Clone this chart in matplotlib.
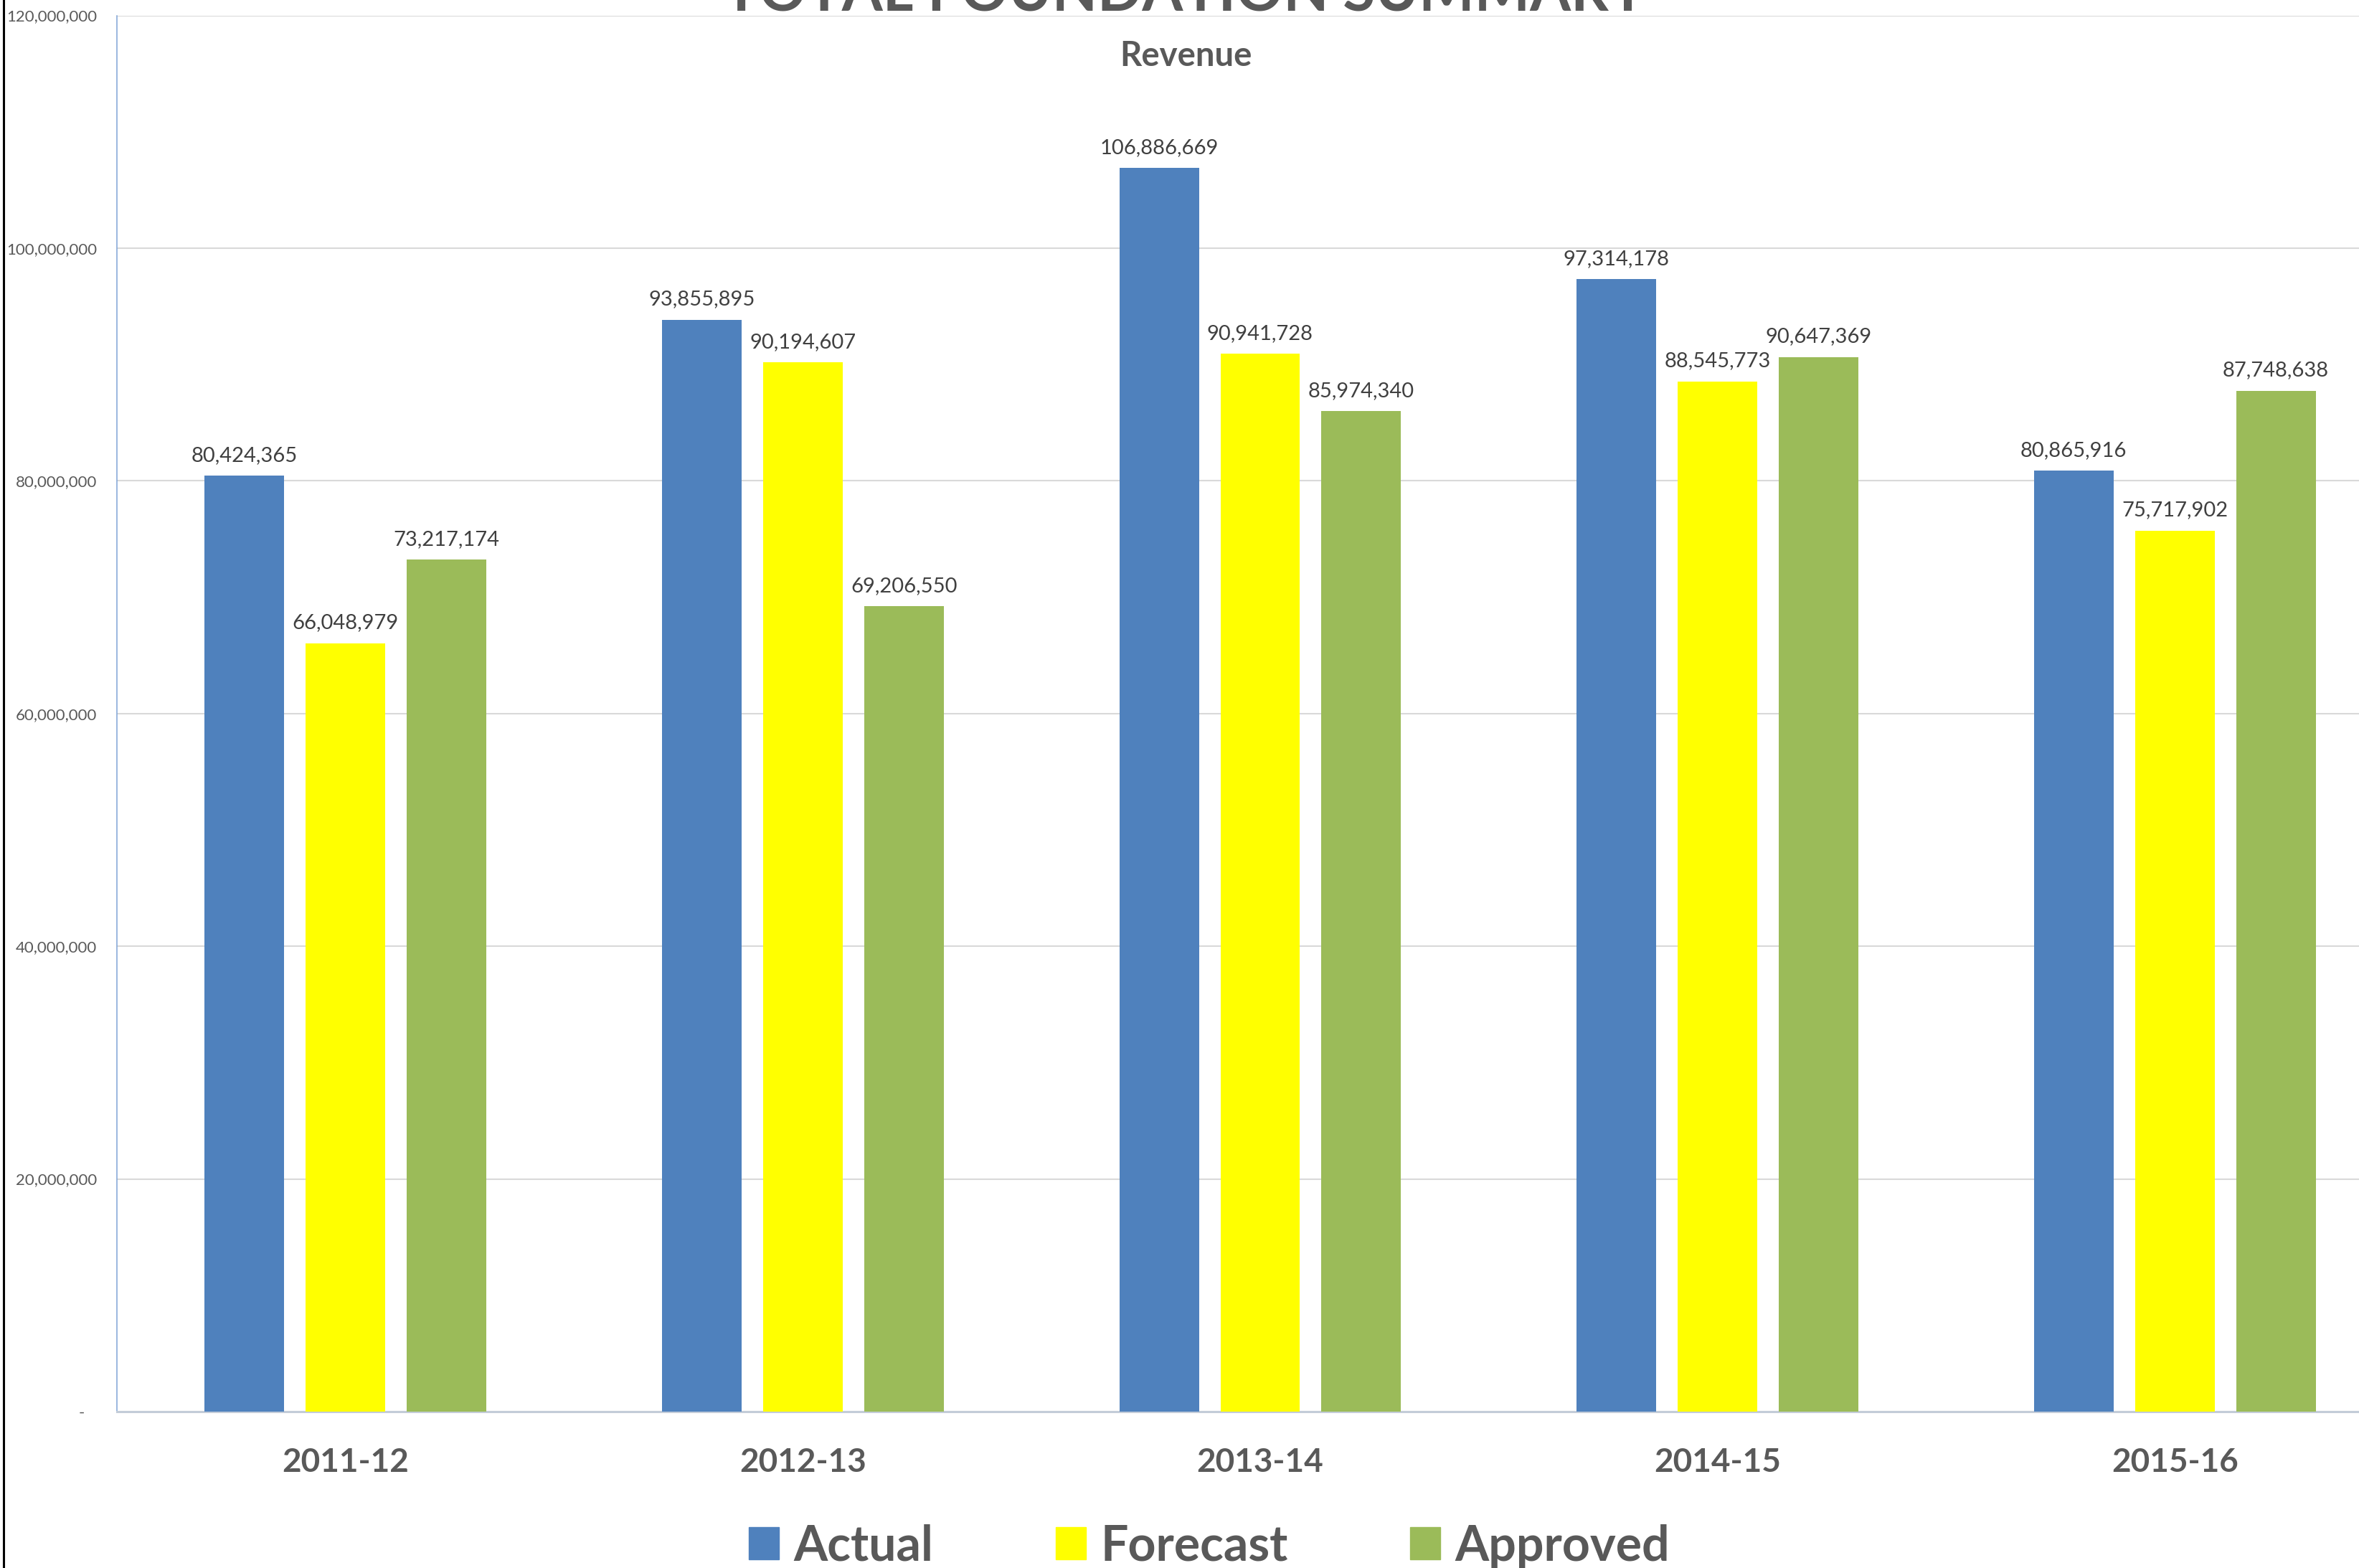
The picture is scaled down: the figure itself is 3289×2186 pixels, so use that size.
import matplotlib
matplotlib.use("Agg")
import matplotlib.pyplot as plt
from matplotlib.patches import Rectangle
from matplotlib.lines import Line2D
from matplotlib.ticker import FuncFormatter

plt.rcParams['font.family'] = ['Lato', 'DejaVu Sans']

years = ["2011-12", "2012-13", "2013-14", "2014-15", "2015-16"]
actual = [80424365, 93855895, 106886669, 97314178, 80865916]
forecast = [66048979, 90194607, 90941728, 88545773, 75717902]
approved = [73217174, 69206550, 85974340, 90647369, 87748638]

series_names = ["Actual", "Forecast", "Approved"]
colors = ["#4f81bd", "#ffff00", "#9bbb59"]

W, H = 3289, 2186
fig = plt.figure(figsize=(W / 100, H / 100), dpi=100)

# axes runs off the right edge like the cropped original
ax = fig.add_axes([163 / W, (H - 1968) / H, 3188 / W, (1968 - 21.5) / H])

x = list(range(len(years)))
width = 0.174
step = 0.221
for k, (vals, col) in enumerate(zip([actual, forecast, approved], colors)):
    pos = [i + (k - 1) * step for i in x]
    bars = ax.bar(pos, vals, width=width, color=col, zorder=3, linewidth=0)
    ax.bar_label(bars, labels=[f"{v:,}" for v in vals], padding=11,
                 fontsize=21, color="#404040")

ax.set_xlim(-0.5, 4.5)
ax.set_ylim(0, 120000000)
ax.set_yticks(range(0, 120000001, 20000000))
ax.yaxis.set_major_formatter(FuncFormatter(lambda v, p: "-   " if v == 0 else f"{v:,.0f}"))
ax.set_xticks(x)
ax.set_xticklabels(years, fontsize=33, fontweight="bold", color="#595959")
ax.tick_params(axis="x", length=0, pad=36)
ax.tick_params(axis="y", length=0, pad=20, labelsize=16, labelcolor="#595959")

ax.grid(axis="y", color="#d9d9d9", linewidth=1.5, zorder=0)
ax.set_axisbelow(True)
for s in ["top", "right"]:
    ax.spines[s].set_visible(False)
ax.spines["left"].set_color("#7ea3d6")
ax.spines["left"].set_linewidth(1.1)
ax.spines["bottom"].set_color("#c3ccd8")
ax.spines["bottom"].set_linewidth(2.2)

fig.text(1653 / W, 1 - 15 / H, "TOTAL FOUNDATION SUMMARY", ha="center", va="baseline",
         fontsize=59, fontweight="bold", color="#595959")
fig.text(1653 / W, 1 - 92 / H, "Revenue", ha="center", va="baseline",
         fontsize=34, fontweight="bold", color="#595959")

handles = [Rectangle((0, 0), 1, 1, color=c) for c in colors]
fig.legend(handles, series_names, loc="center", bbox_to_anchor=(1686 / W, 1 - 2156 / H),
           ncol=3, frameon=False, prop={"size": 49, "weight": "bold"},
           handlelength=0.62, handleheight=0.62, handletextpad=0.3,
           columnspacing=2.5, borderpad=0, labelcolor="#595959")

# black border on the left side of the chart area
fig.add_artist(Line2D([5 / W, 5 / W], [0, 1], color="black", linewidth=2.2))

fig.savefig("out.png", dpi=100, facecolor="white")
